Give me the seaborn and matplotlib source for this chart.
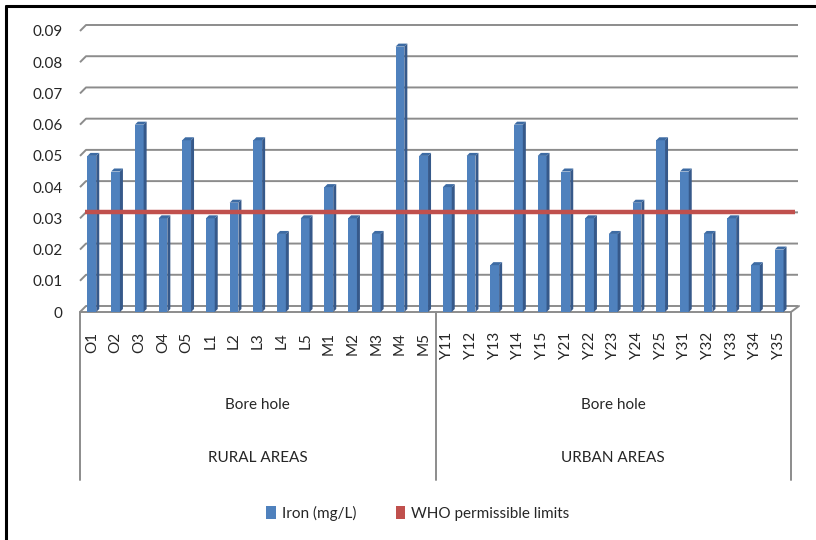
import numpy as np
import pandas as pd
import matplotlib
matplotlib.use("Agg")
import matplotlib.pyplot as plt
from matplotlib.patches import Polygon, Patch
from matplotlib.lines import Line2D
import seaborn as sns

# Bore-hole sampling sites and measured iron concentration (mg/L)
rural_sites = ["O1", "O2", "O3", "O4", "O5", "L1", "L2", "L3", "L4", "L5",
               "M1", "M2", "M3", "M4", "M5"]
rural_iron = [0.05, 0.045, 0.06, 0.03, 0.055, 0.03, 0.035, 0.055, 0.025, 0.03,
              0.04, 0.03, 0.025, 0.085, 0.05]
urban_sites = ["Y11", "Y12", "Y13", "Y14", "Y15", "Y21", "Y22", "Y23", "Y24", "Y25",
               "Y31", "Y32", "Y33", "Y34", "Y35"]
urban_iron = [0.04, 0.05, 0.015, 0.06, 0.05, 0.045, 0.03, 0.025, 0.035, 0.055,
              0.045, 0.025, 0.03, 0.015, 0.02]
who_limit = 0.03
source_label = "Bore hole"
area_labels = ["RURAL AREAS", "URBAN AREAS"]
y_ticks = [0, 0.01, 0.02, 0.03, 0.04, 0.05, 0.06, 0.07, 0.08, 0.09]

sites = rural_sites + urban_sites
df = pd.DataFrame({
    "site": sites,
    "iron": rural_iron + urban_iron,
    "area": [area_labels[0]] * len(rural_sites) + [area_labels[1]] * len(urban_sites),
})
n = len(sites)

sns.set_style("white")
plt.rcParams["font.family"] = ["Lato", "DejaVu Sans"]

W, H = 816, 540
fig = plt.figure(figsize=(W / 100, H / 100), dpi=100)
ax_l, ax_r, ax_b, ax_t = 80, 791, 312, 31
ax = fig.add_axes([ax_l / W, 1 - ax_b / H, (ax_r - ax_l) / W, (ax_b - ax_t) / H])

blue = "#4F81BD"
blue_side = "#36598A"
blue_top = "#3D6BA3"
red = "#C0504D"
grid_c = "#8C8C8C"
text_c = "#262626"

sns.barplot(data=df, x="site", y="iron", order=sites, color=blue,
            width=0.37, saturation=1, ax=ax, zorder=3, linewidth=0)
ax.set_xlim(-0.5, n - 0.5)
ax.set_ylim(0, 0.09)

# pixel -> data conversion for the depth offset of the 3D look
px_x = n / (ax_r - ax_l)
px_y = 0.09 / (ax_b - ax_t)
dx, dy = 6 * px_x, 6 * px_y          # back wall offset
bx, by = 3 * px_x, 3 * px_y          # bar depth

# back-wall gridlines with the short side-wall segment on the left
for v in y_ticks:
    ax.plot([-0.5, -0.5 + dx, n - 0.5 + 7 * px_x], [v, v + dy, v + dy],
            color=grid_c, lw=1.4, zorder=1, clip_on=False, solid_capstyle="butt")

# side and top faces of the bars
for p in ax.patches:
    x0, w, h = p.get_x(), p.get_width(), p.get_height()
    x1 = x0 + w
    ax.add_patch(Polygon([[x1, 0], [x1 + bx, by], [x1 + bx, h + by], [x1, h]],
                         closed=True, facecolor=blue_side, edgecolor="none", zorder=3))
    ax.add_patch(Polygon([[x0, h], [x0 + bx, h + by], [x1 + bx, h + by], [x1, h]],
                         closed=True, facecolor=blue_top, edgecolor="none", zorder=3))

# WHO permissible limit across all sites
ax.plot([-0.5 + dx * 0.8, n - 0.5 + 4 * px_x], [who_limit + dy, who_limit + dy],
        color=red, lw=3.2, zorder=4, clip_on=False, solid_capstyle="butt")

# floor front edge
ax.plot([-0.5, n - 0.5, n - 0.5 + 8 * px_x], [0, 0, 6 * px_y],
        color=grid_c, lw=1.4, zorder=2, clip_on=False)

for s in ax.spines.values():
    s.set_visible(False)

ax.set_yticks(y_ticks)
ax.set_yticklabels([f"{v:g}" for v in y_ticks], fontsize=11, color=text_c)
ax.tick_params(axis="y", length=0, pad=12.5)
ax.set_xticks(range(n))
ax.set_xticklabels(sites, rotation=90, fontsize=11, color=text_c)
ax.tick_params(axis="x", length=0, pad=14.5)
for lbl in ax.get_xticklabels():
    lbl.set_va("top")
ax.set_xlabel("")
ax.set_ylabel("")

# multi-level category boxes below the axis
sep_bottom = 480
for xs in [-0.5, len(rural_sites) - 0.5, n - 0.5]:
    xf = ax_l + (xs + 0.5) / px_x
    fig.add_artist(Line2D([xf / W, xf / W], [1 - ax_b / H, 1 - sep_bottom / H],
                          color=grid_c, lw=1.4))
group_bounds = [(0, len(rural_sites)), (len(rural_sites), n)]
for (a, b), area in zip(group_bounds, area_labels):
    xc = ax_l + ((a + b) / 2) / px_x
    fig.text(xc / W, 1 - 405 / H, source_label, ha="center", va="center",
             fontsize=11, color=text_c)
    fig.text(xc / W, 1 - 458 / H, area, ha="center", va="center",
             fontsize=11, color=text_c)

handles = [Patch(facecolor=blue, edgecolor="none", label="Iron (mg/L)"),
           Patch(facecolor=red, edgecolor="none", label="WHO permissible limits")]
fig.legend(handles=handles, loc="center", bbox_to_anchor=(418 / W, 1 - 513 / H),
           ncol=2, frameon=False, fontsize=11, handlelength=0.6, handleheight=0.9,
           handletextpad=0.4, columnspacing=2.6, labelcolor=text_c)

# outer chart frame (top and left edges)
fig.add_artist(Line2D([6 / W, 6 / W], [0, 1 - 6 / H], color="black", lw=2.2))
fig.add_artist(Line2D([6 / W, 1], [1 - 6 / H, 1 - 6 / H], color="black", lw=2.2))

fig.savefig("out.png", dpi=100)
